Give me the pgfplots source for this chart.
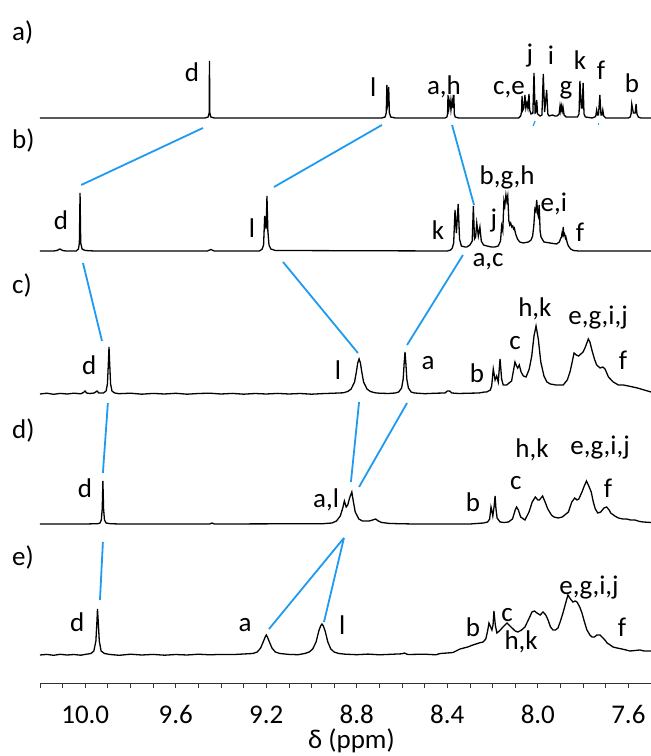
\documentclass[border=0pt]{standalone}
\usepackage{pgfplots}
\pgfplotsset{compat=1.18}
\usepackage{fontspec}
\setmainfont{Carlito}
\definecolor{conn}{RGB}{30,155,240}
\begin{document}
\fontsize{27bp}{32bp}\selectfont
\begin{tikzpicture}
\begin{axis}[
  at={(40bp,73bp)}, anchor=south west,
  width=611bp, height=683bp, scale only axis,
  xmin=7.5, xmax=10.2, ymin=0, ymax=683,
  x dir=reverse,
  axis x line=bottom, axis y line=none,
  x axis line style={-, line width=0.9bp, draw=black!80},
  xtick={7.6,8.0,8.4,8.8,9.2,9.6,10.0},
  minor xtick={7.7,7.8,7.9,8.1,8.2,8.3,8.5,8.6,8.7,8.9,9.0,9.1,9.3,9.4,9.5,9.7,9.8,9.9,10.1,10.2},
  tick align=outside,
  major tick length=5bp, minor tick length=5bp,
  every tick/.style={black!80, line width=0.8bp},
  xticklabel style={anchor=base, yshift=-35bp, inner sep=0pt,
    /pgf/number format/.cd, fixed, fixed zerofill, precision=1, assume math mode=true},
  xlabel={δ (ppm)},
  xlabel style={at={(axis description cs:0.5,0)}, anchor=base, yshift=-65bp, xshift=6bp, inner sep=0pt},
  clip=false,
]
% ---------------- a) ----------------
\addplot[black, line width=1.3bp] table[y expr=\thisrowno{1}+565] {
x y
10.200 0
9.470 0
9.457 1
9.4525 5
9.451 57
9.4495 5
9.445 1
9.430 0
8.690 0
8.675 1
8.670 5
8.667 33
8.664 12
8.662 14
8.659 31
8.656 5
8.650 1
8.630 0
8.410 0
8.402 1
8.399 4
8.397 23
8.393 10
8.388 18
8.384 8
8.379 18
8.375 10
8.371 23
8.369 4
8.365 1
8.350 0
8.085 0
8.076 2
8.072 6
8.070 22
8.066 8
8.062 10
8.057 23
8.053 10
8.048 15
8.044 10
8.039 24
8.036 8
8.030 4
8.022 5
8.017 45
8.012 5
8.008 6
8.005 18
8.001 4
7.990 2
7.982 3
7.976 44
7.970 6
7.961 28
7.956 4
7.950 2
7.935 3
7.925 2
7.915 2
7.906 4
7.902 12
7.899 7
7.896 12
7.892 7
7.889 11
7.884 3
7.875 1
7.840 1
7.825 1
7.818 4
7.814 37
7.808 10
7.804 10
7.800 35
7.796 4
7.790 1
7.760 0
7.748 1
7.744 2
7.740 8
7.736 3
7.732 3
7.726 23
7.721 3
7.717 3
7.713 8
7.709 2
7.700 0
7.600 0
7.592 1
7.588 4
7.585 14
7.578 5
7.570 5
7.566 14
7.562 4
7.556 1
7.545 0
7.500 0
};
% ---------------- b) ----------------
\addplot[black, line width=1.3bp] table[y expr=\thisrowno{1}+432] {
x y
10.200 0
10.140 0
10.125 0.5
10.112 2
10.100 0.5
10.085 0
10.040 0
10.030 2
10.026 8
10.023 58
10.020 8
10.014 2
10.000 0.5
9.960 0
9.460 0
9.445 1.5
9.430 0
9.230 0
9.218 2
9.212 6
9.207 35
9.201 22
9.197 55
9.193 20
9.188 6
9.180 2
9.160 0.5
8.400 0
8.385 1
8.378 3
8.372 8
8.366 41
8.360 18
8.352 47
8.346 12
8.338 5
8.322 4
8.314 4
8.300 6
8.290 10
8.285 45
8.280 12
8.275 14
8.270 28
8.263 15
8.256 24
8.250 10
8.240 6
8.225 5
8.205 4
8.190 4
8.175 5
8.165 10
8.160 25
8.155 20
8.150 50
8.146 45
8.141 56
8.137 50
8.133 55
8.128 30
8.124 26
8.120 28
8.115 24
8.111 25
8.107 22
8.104 23
8.098 17
8.090 12
8.080 9
8.064 8
8.042 9
8.030 11
8.023 15
8.018 25
8.013 42
8.009 40
8.005 51
8.001 38
7.998 35
7.994 46
7.990 20
7.986 14
7.973 9
7.946 8
7.917 7
7.905 9
7.900 12
7.896 14
7.893 18
7.890 16
7.888 24
7.885 16
7.882 17
7.878 13
7.876 14
7.870 8
7.865 5
7.855 2
7.843 0.5
7.820 0
7.500 0
};
% ---------------- c) ----------------
\addplot[black, line width=1.3bp] table[y expr=\thisrowno{1}+289] {
x y
10.200 0
10.170 0.8
10.140 -0.3
10.110 0.6
10.080 0
10.050 0.8
10.020 0.2
10.008 1.5
10.001 3
9.994 1
9.980 0.5
9.960 1
9.948 3
9.940 1
9.920 1
9.908 3
9.902 10
9.898 30
9.895 47
9.892 30
9.888 10
9.882 3
9.870 1
9.850 0.3
9.800 0.8
9.750 -0.2
9.700 0.6
9.650 0
9.600 0.7
9.550 -0.2
9.500 0.5
9.450 0.8
9.400 0
9.350 0.6
9.300 -0.2
9.250 0.5
9.200 0
9.150 0.6
9.100 0
9.050 0.5
9.000 -0.2
8.950 0.4
8.900 0.8
8.860 1.2
8.840 2.5
8.825 5
8.810 12
8.802 22
8.796 31
8.790 35
8.784 31
8.778 22
8.770 12
8.755 5
8.740 2.5
8.720 1.2
8.700 0.8
8.660 0.5
8.630 1
8.615 2
8.602 6
8.595 15
8.591 30
8.587 42
8.583 30
8.579 15
8.572 6
8.560 2
8.545 1
8.500 0.3
8.450 0.8
8.410 1
8.400 3
8.390 3
8.380 1
8.350 0.5
8.300 0.8
8.260 1
8.235 2
8.226 2
8.210 4
8.204 8
8.197 25
8.189 14
8.182 18
8.175 12
8.167 35
8.160 15
8.153 9
8.138 9
8.116 13
8.101 32
8.094 28
8.089 26
8.082 29
8.074 22
8.064 18
8.052 17
8.038 25
8.027 38
8.017 58
8.008 68
7.998 55
7.987 32
7.973 18
7.960 12
7.945 10
7.920 9
7.888 9
7.870 14
7.858 22
7.851 29
7.840 41
7.830 39
7.820 38
7.810 40
7.800 42
7.790 47
7.777 55
7.770 52
7.760 43
7.750 35
7.740 29
7.725 26
7.713 27
7.703 25
7.688 17
7.667 12
7.644 9
7.622 9
7.600 8
7.580 7
7.560 6
7.530 4
7.500 2
};
% ---------------- d) ----------------
\addplot[black, line width=1.3bp] table[y expr=\thisrowno{1}+159] {
x y
10.200 0
10.000 0
9.945 0.3
9.935 1
9.929 4
9.925 15
9.922 43
9.919 15
9.915 4
9.908 1
9.890 0.3
9.850 0
9.450 0
9.440 1
9.430 0
8.950 0.3
8.910 1
8.890 3
8.873 8
8.862 16
8.855 23
8.847 17
8.840 19
8.832 26
8.822 32
8.815 22
8.807 12
8.791 5
8.775 3
8.763 3
8.745 3
8.730 4
8.717 5
8.705 3
8.690 1.5
8.653 0.5
8.550 0
8.300 0
8.240 1
8.222 2
8.213 5
8.207 17
8.204 14
8.199 8
8.193 18
8.189 28
8.185 15
8.180 6
8.167 2
8.149 1.5
8.130 2
8.112 5
8.100 14
8.094 17
8.086 14
8.076 7
8.057 4
8.039 12
8.025 22
8.011 27
8.000 24
7.993 24
7.979 28
7.968 22
7.956 15
7.940 9
7.929 7
7.910 6
7.892 7
7.865 12
7.850 22
7.837 26
7.827 24
7.819 25
7.805 32
7.795 38
7.785 43
7.775 38
7.764 32
7.755 22
7.746 15
7.735 11
7.722 12
7.708 16
7.696 17
7.685 14
7.678 11
7.660 8
7.644 6
7.625 5
7.608 5
7.590 4
7.571 4
7.550 2.5
7.534 2
7.500 1.5
};
% ---------------- e) ----------------
\addplot[black, line width=1.3bp] table[y expr=\thisrowno{1}+28] {
x y
10.200 0
10.170 0.6
10.140 -0.3
10.110 0.7
10.080 0
10.050 0.5
10.020 -0.2
10.000 0.6
9.975 1.5
9.962 4
9.953 14
9.948 35
9.946 46
9.943 35
9.938 14
9.930 4
9.915 1.5
9.890 0.5
9.850 -0.3
9.800 0.8
9.750 0
9.700 0.6
9.650 -0.2
9.600 0.5
9.550 0
9.500 0.8
9.450 0.2
9.400 0.6
9.350 0.4
9.300 1
9.260 1.5
9.240 3
9.225 7
9.212 14
9.205 18
9.200 20
9.195 18
9.188 14
9.175 7
9.160 3
9.140 1.5
9.100 0.6
9.060 0.3
9.030 1.5
9.010 3
8.995 6
8.980 13
8.968 24
8.960 29
8.954 31
8.948 29
8.940 24
8.928 13
8.915 6
8.900 3
8.880 1.5
8.850 0.8
8.800 0.3
8.750 0.9
8.700 0.2
8.650 0.7
8.600 1.2
8.590 2
8.575 0.5
8.500 0.8
8.450 0.2
8.432 1.5
8.400 2
8.375 2.5
8.344 6
8.310 8
8.287 10
8.260 12
8.242 13
8.230 16
8.222 24
8.216 32
8.203 25
8.198 30
8.194 44
8.188 30
8.181 22
8.170 24
8.154 28
8.136 32
8.114 27
8.100 24
8.088 23
8.072 25
8.057 28
8.040 36
8.026 43
8.015 44
8.004 42
7.990 40
7.977 43
7.965 40
7.955 35
7.944 28
7.933 25
7.922 25
7.911 27
7.900 34
7.889 42
7.877 52
7.867 60
7.856 56
7.845 53
7.835 54
7.827 53
7.815 48
7.805 42
7.794 33
7.783 25
7.770 20
7.761 18
7.750 18
7.739 20
7.725 20
7.712 17
7.700 14
7.694 12
7.680 10
7.668 8
7.650 7
7.628 6
7.610 5
7.593 4
7.570 4.5
7.549 5
7.530 4
7.500 4
};
% ---------------- connectors ----------------
\addplot[conn, line width=1.8bp] coordinates {(9.480,555) (10.018,498)};
\addplot[conn, line width=1.8bp] coordinates {(8.689,558) (9.166,496)};
\addplot[conn, line width=1.8bp] coordinates {(8.379,558) (8.282,478)};
\addplot[conn, line width=1.8bp] coordinates {(10.010,420) (9.926,342)};
\addplot[conn, line width=1.8bp] coordinates {(9.126,421) (8.795,330)};
\addplot[conn, line width=1.8bp] coordinates {(8.331,428) (8.578,338)};
\addplot[conn, line width=1.8bp] coordinates {(9.900,280) (9.922,210)};
\addplot[conn, line width=1.8bp] coordinates {(8.790,281) (8.826,201)};
\addplot[conn, line width=1.8bp] coordinates {(8.578,280) (8.790,196)};
\addplot[conn, line width=1.8bp] coordinates {(9.922,141) (9.935,83)};
\addplot[conn, line width=1.8bp] coordinates {(8.857,145) (9.188,54)};
\addplot[conn, line width=1.8bp] coordinates {(8.857,145) (8.945,61)};
\addplot[conn, line width=1.2bp] coordinates {(8.021,557) (8.012,562)};
\addplot[conn, line width=1.2bp] coordinates {(7.736,559) (7.730,559)};
% ---------------- labels ----------------
\node[anchor=base west, inner sep=0pt] at (axis cs:10.324,642) {a)};
\node[anchor=base west, inner sep=0pt] at (axis cs:10.324,534) {b)};
\node[anchor=base west, inner sep=0pt] at (axis cs:10.324,389) {c)};
\node[anchor=base west, inner sep=0pt] at (axis cs:10.324,244) {d)};
\node[anchor=base west, inner sep=0pt] at (axis cs:10.324,117) {e)};
% a
\node[anchor=base] at (axis cs:9.528,601) {d};
\node[anchor=base] at (axis cs:8.728,586) {l};
\node[anchor=base] at (axis cs:8.415,588) {a,h};
\node[anchor=base] at (axis cs:8.128,588) {c,e};
\node[anchor=base] at (axis cs:8.035,620) {j};
\node[anchor=base] at (axis cs:7.942,618) {i};
\node[anchor=base] at (axis cs:7.876,588) {g};
\node[anchor=base] at (axis cs:7.814,613) {k};
\node[anchor=base] at (axis cs:7.721,603) {f};
\node[anchor=base] at (axis cs:7.584,590) {b};
% b
\node[anchor=base] at (axis cs:10.107,453) {d};
\node[anchor=base] at (axis cs:9.263,445) {l};
\node[anchor=base] at (axis cs:8.441,443) {k};
\node[anchor=base] at (axis cs:8.136,498) {b,g,h};
\node[anchor=base] at (axis cs:8.194,455) {j};
\node[anchor=base] at (axis cs:7.929,471) {e,i};
\node[anchor=base] at (axis cs:7.814,441) {f};
\node[anchor=base] at (axis cs:8.220,416) {a,c};
% c
\node[anchor=base] at (axis cs:9.983,308) {d};
\node[anchor=base] at (axis cs:8.883,303) {l};
\node[anchor=base] at (axis cs:8.485,313) {a};
\node[anchor=base] at (axis cs:8.269,300) {b};
\node[anchor=base] at (axis cs:8.101,333) {c};
\node[anchor=base] at (axis cs:8.013,366) {h,k};
\node[anchor=base] at (axis cs:7.734,358) {e,g,i,j};
\node[anchor=base] at (axis cs:7.624,313) {f};
% d
\node[anchor=base] at (axis cs:10.001,185) {d};
\node[anchor=base] at (axis cs:8.936,175) {a,l};
\node[anchor=base] at (axis cs:8.287,171) {b};
\node[anchor=base] at (axis cs:8.097,193) {c};
\node[anchor=base] at (axis cs:8.026,225) {h,k};
\node[anchor=base] at (axis cs:7.725,228) {e,g,i,j};
\node[anchor=base] at (axis cs:7.690,185) {f};
% e
\node[anchor=base] at (axis cs:10.036,51) {d};
\node[anchor=base] at (axis cs:9.294,51) {a};
\node[anchor=base] at (axis cs:8.865,48) {l};
\node[anchor=base] at (axis cs:8.287,46) {b};
\node[anchor=base] at (axis cs:8.136,61) {c};
\node[anchor=base] at (axis cs:8.074,33) {h,k};
\node[anchor=base] at (axis cs:7.774,88) {e,g,i,j};
\node[anchor=base] at (axis cs:7.628,46) {f};
\end{axis}
\pgfresetboundingbox
\useasboundingbox (0,0) rectangle (651bp,756bp);
\end{tikzpicture}
\end{document}
